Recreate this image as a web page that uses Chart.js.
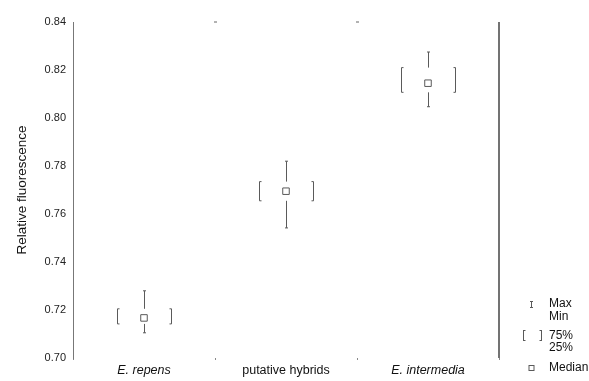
<!DOCTYPE html>
<html>
<head>
<meta charset="utf-8">
<script src="https://cdn.jsdelivr.net/npm/chart.js@4.4.0/dist/chart.umd.min.js"></script>
<style>
  html, body { margin: 0; padding: 0; background: #fff; }
  #wrap { width: 589px; height: 381px; }
</style>
</head>
<body>
<div id="wrap"><canvas id="chart" width="589" height="381"></canvas></div>
<script>
'use strict';

var categories = ['E. repens', 'putative hybrids', 'E. intermedia'];
var maxVals = [0.728, 0.782, 0.8275];
var q3Vals = [0.7205, 0.7735, 0.821];
var medians = [0.7167, 0.7695, 0.8145];
var q1Vals = [0.7142, 0.7655, 0.8107];
var minVals = [0.7105, 0.7542, 0.8047];
var yTicks = [0.70, 0.72, 0.74, 0.76, 0.78, 0.80, 0.82, 0.84];
var legendLabels = ['Max', 'Min', '75%', '25%', 'Median'];

(function() {
  var FONT = '"Liberation Sans", Arial, sans-serif';
  var LINE = '#5a5a5a';

  function line(ctx, x1, y1, x2, y2) {
    ctx.beginPath();
    ctx.moveTo(x1, y1);
    ctx.lineTo(x2, y2);
    ctx.stroke();
  }

  //whiskers, quartile brackets, frame bits and the legend
  var boxPlugin = {
    id: 'boxes',
    beforeDatasetsDraw: function(chart) {
      var ctx = chart.ctx;
      var x = chart.scales.x;
      var y = chart.scales.y;
      var step = x.getPixelForValue(1) - x.getPixelForValue(0);
      var half = Math.round(step * 0.187);

      ctx.save();
      ctx.strokeStyle = LINE;
      ctx.lineWidth = 1;
      categories.forEach(function(c, i) {
        var cx = Math.round(x.getPixelForValue(i)) + 0.5;
        var yMax = y.getPixelForValue(maxVals[i]);
        var yQ3 = y.getPixelForValue(q3Vals[i]);
        var yQ1 = y.getPixelForValue(q1Vals[i]);
        var yMin = y.getPixelForValue(minVals[i]);

        line(ctx, cx, yMax, cx, yQ3);
        line(ctx, cx, yQ1, cx, yMin);
        line(ctx, cx - 1.5, yMax, cx + 1.5, yMax);
        line(ctx, cx - 1.5, yMin, cx + 1.5, yMin);

        [-1, 1].forEach(function(s) {
          var bx = cx + s * half;
          line(ctx, bx, yQ3, bx, yQ1);
          line(ctx, bx, yQ3, bx - s * 2, yQ3);
          line(ctx, bx, yQ1, bx - s * 2, yQ1);
        });
      });
      ctx.restore();
    },
    afterDraw: function(chart) {
      var ctx = chart.ctx;
      var area = chart.chartArea;
      var x = chart.scales.x;

      ctx.save();
      //right frame line
      ctx.strokeStyle = '#444';
      ctx.lineWidth = 1.5;
      line(ctx, area.right, area.top, area.right, area.bottom);

      //tiny ticks at the top between categories
      ctx.strokeStyle = '#666';
      ctx.lineWidth = 1;
      for (var i = 0; i < categories.length - 1; i++) {
        var bx = Math.round((x.getPixelForValue(i) + x.getPixelForValue(i + 1)) / 2) + 0.5;
        line(ctx, bx - 1.5, area.top, bx + 1.5, area.top);
      }

      //legend
      var lx = area.right + 50;
      var sx = area.right + 32.5;
      ctx.fillStyle = '#111';
      ctx.font = '12px ' + FONT;
      ctx.textBaseline = 'middle';
      ctx.textAlign = 'left';
      var rows = [304, 317, 336, 348, 368];
      legendLabels.forEach(function(lbl, k) {
        ctx.fillText(lbl, lx, rows[k]);
      });

      ctx.strokeStyle = LINE;
      //max/min symbol
      line(ctx, sx, 301, sx, 308);
      line(ctx, sx - 1.5, 301.5, sx + 1.5, 301.5);
      line(ctx, sx - 1.5, 307.5, sx + 1.5, 307.5);
      //quartile brackets
      [area.right + 24.5, area.right + 42.5].forEach(function(bx, k) {
        var s = k === 0 ? 1 : -1;
        line(ctx, bx, 330, bx, 341);
        line(ctx, bx, 330.5, bx + s * 2, 330.5);
        line(ctx, bx, 340.5, bx + s * 2, 340.5);
      });
      //median square
      ctx.strokeRect(sx - 2.5, 365.5, 5, 5);
      ctx.restore();
    }
  };

  var ctx = document.getElementById('chart').getContext('2d');

  new Chart(ctx, {
    type: 'line',
    data: {
      labels: categories,
      datasets: [{
        label: 'Median',
        data: medians,
        showLine: false,
        pointStyle: 'rect',
        pointRadius: 4.6,
        pointBorderWidth: 1,
        pointBorderColor: LINE,
        pointBackgroundColor: '#fff'
      }]
    },
    options: {
      responsive: false,
      animation: false,
      devicePixelRatio: 1,
      layout: { padding: { top: 22, right: 90, bottom: 0, left: 0 } },
      plugins: {
        legend: { display: false },
        tooltip: { enabled: false }
      },
      scales: {
        x: {
          type: 'category',
          offset: true,
          grid: { display: true, drawOnChartArea: false, offset: true, tickLength: 2, color: '#888' },
          border: { display: false },
          ticks: {
            padding: 3,
            color: '#111',
            font: function(c) {
              return { family: FONT, size: 12.5, style: c.index === 1 ? 'normal' : 'italic' };
            }
          },
          afterFit: function(scale) { scale.height = 23; }
        },
        y: {
          min: 0.70,
          max: 0.84,
          afterBuildTicks: function(scale) {
            scale.ticks = yTicks.map(function(v) { return { value: v }; });
          },
          grid: { drawOnChartArea: false, drawTicks: false },
          border: { display: true, color: '#777', width: 1 },
          ticks: {
            padding: 7,
            color: '#222',
            font: { family: FONT, size: 11 },
            callback: function(v) { return Number(v).toFixed(2); }
          },
          title: {
            display: true,
            text: 'Relative fluorescence',
            color: '#111',
            font: { family: FONT, size: 13.5 },
            padding: { top: 14, bottom: 4 }
          },
          afterFit: function(scale) { scale.width = 73; }
        }
      }
    },
    plugins: [boxPlugin]
  });
})();
</script>
</body>
</html>
